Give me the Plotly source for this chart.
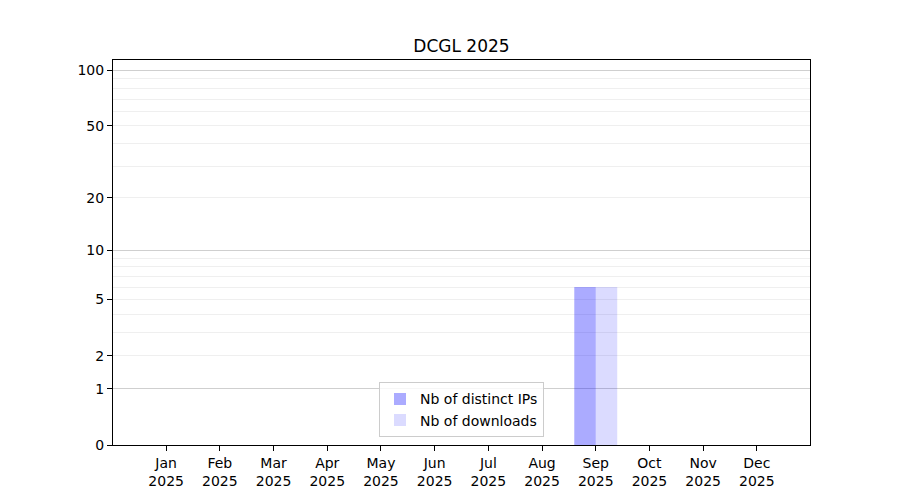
import plotly.graph_objects as go

# Monthly stats for 2025
months = ["Jan", "Feb", "Mar", "Apr", "May", "Jun",
          "Jul", "Aug", "Sep", "Oct", "Nov", "Dec"]
year = "2025"
distinct_ips = [0, 0, 0, 0, 0, 0, 0, 0, 6, 0, 0, 0]
downloads = [0, 0, 0, 0, 0, 0, 0, 0, 6, 0, 0, 0]

# y axis ticks (symlog-like scale, plotted as log(1 + n))
tick_values = [0, 1, 2, 5, 10, 20, 50, 100]
major_grid = [1, 10, 100]
minor_grid = [2, 3, 4, 5, 6, 7, 8, 9, 20, 30, 40, 50, 60, 70, 80, 90]

labels = [m + "<br>" + year for m in months]
shift = lambda vals: [v + 1 for v in vals]

font = dict(family="DejaVu Sans", size=14, color="black")

fig = go.Figure()
fig.add_trace(go.Bar(x=labels, y=shift(distinct_ips), name="Nb of distinct IPs",
                     marker=dict(color="rgba(0,0,255,0.33)", line=dict(width=0))))
fig.add_trace(go.Bar(x=labels, y=shift(downloads), name="Nb of downloads",
                     marker=dict(color="rgba(0,0,255,0.14)", line=dict(width=0))))
# empty trace so the overlay axis (darker grid lines) gets drawn
fig.add_trace(go.Scatter(x=[], y=[], yaxis="y2", showlegend=False, hoverinfo="skip"))

yrange = [0, 2.06]

fig.update_layout(
    width=900, height=500,
    margin=dict(l=105, r=98, t=52, b=63),
    paper_bgcolor="white", plot_bgcolor="white",
    font=font,
    barmode="group", bargap=0.2, bargroupgap=0,
    title=dict(text="DCGL 2025", x=0.5, xref="paper", y=1 - 38 / 500,
               yref="container", yanchor="middle", xanchor="center",
               font=dict(family="DejaVu Sans", size=17, color="black")),
    legend=dict(x=0.5, y=0.02, xanchor="center", yanchor="bottom",
                bordercolor="#cccccc", borderwidth=1,
                bgcolor="rgba(255,255,255,0.8)", font=font,
                itemwidth=30),
    xaxis=dict(range=[-0.99, 11.99], showline=True, linecolor="black",
               linewidth=1, mirror=True, ticks="outside", ticklen=5,
               tickcolor="black", showgrid=False, zeroline=False),
    yaxis=dict(type="log", range=yrange, showline=True, linecolor="black",
               linewidth=1, mirror=True, ticks="outside", ticklen=5,
               tickcolor="black", tickmode="array",
               tickvals=shift(tick_values), ticktext=[str(t) for t in tick_values],
               showgrid=False, zeroline=False,
               minor=dict(tickmode="array", tickvals=shift(minor_grid),
                          showgrid=True, gridcolor="#efefef", gridwidth=1,
                          ticks="")),
    yaxis2=dict(type="log", range=yrange, overlaying="y", side="left",
                tickmode="array", tickvals=shift(major_grid),
                showticklabels=False, ticks="", showgrid=True,
                gridcolor="#cfcfcf", gridwidth=1, zeroline=False,
                showline=False),
)

fig.write_html("out.html")
